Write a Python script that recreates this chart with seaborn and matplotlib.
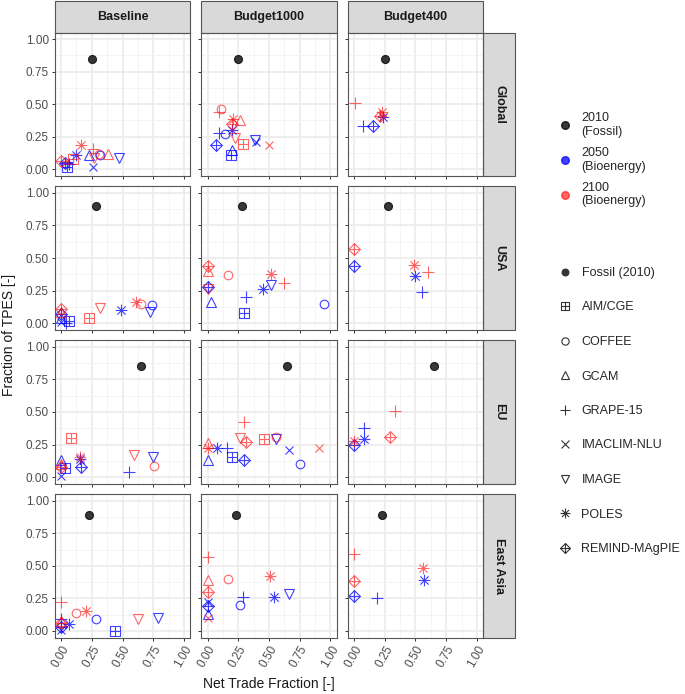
import numpy as np
import pandas as pd
import matplotlib
matplotlib.use("Agg")
import matplotlib.pyplot as plt
from matplotlib.path import Path
from matplotlib.lines import Line2D
from matplotlib.patches import Rectangle
import seaborn as sns

regions = ["Global", "USA", "EU", "East Asia"]
scenarios = ["Baseline", "Budget1000", "Budget400"]
models = ["AIM/CGE", "COFFEE", "GCAM", "GRAPE-15", "IMACLIM-NLU",
          "IMAGE", "POLES", "REMIND-MAgPIE"]

# 2010 fossil point per region (same in every scenario)
fossil_x = [0.25, 0.28, 0.65, 0.23]
fossil_y = [0.85, 0.90, 0.85, 0.89]

# (year, model, net trade fraction, fraction of TPES)
global_baseline = [
    ("2050", "AIM/CGE", 0.05, 0.02), ("2050", "GRAPE-15", 0.06, 0.04),
    ("2050", "REMIND-MAgPIE", 0.03, 0.05), ("2050", "POLES", 0.12, 0.11),
    ("2050", "GCAM", 0.23, 0.11), ("2050", "IMACLIM-NLU", 0.26, 0.015),
    ("2050", "COFFEE", 0.32, 0.11), ("2050", "IMAGE", 0.47, 0.085),
    ("2100", "REMIND-MAgPIE", 0.00, 0.065), ("2100", "AIM/CGE", 0.10, 0.08),
    ("2100", "POLES", 0.16, 0.19), ("2100", "GRAPE-15", 0.26, 0.16),
    ("2100", "IMAGE", 0.27, 0.09), ("2100", "COFFEE", 0.31, 0.12),
    ("2100", "GCAM", 0.38, 0.12),
]
global_b1000 = [
    ("2050", "GRAPE-15", 0.09, 0.28), ("2050", "COFFEE", 0.14, 0.27),
    ("2050", "POLES", 0.195, 0.30), ("2050", "REMIND-MAgPIE", 0.07, 0.19),
    ("2050", "GCAM", 0.20, 0.15), ("2050", "AIM/CGE", 0.19, 0.11),
    ("2050", "IMAGE", 0.39, 0.225), ("2050", "IMACLIM-NLU", 0.395, 0.21),
    ("2100", "GRAPE-15", 0.09, 0.44), ("2100", "COFFEE", 0.11, 0.46),
    ("2100", "POLES", 0.205, 0.385), ("2100", "REMIND-MAgPIE", 0.20, 0.35),
    ("2100", "GCAM", 0.26, 0.375), ("2100", "IMAGE", 0.22, 0.24),
    ("2100", "AIM/CGE", 0.29, 0.195), ("2100", "IMACLIM-NLU", 0.50, 0.19),
]
global_b400 = [
    ("2050", "GRAPE-15", 0.07, 0.33), ("2050", "REMIND-MAgPIE", 0.15, 0.33),
    ("2050", "POLES", 0.235, 0.40),
    ("2100", "GRAPE-15", 0.01, 0.51), ("2100", "POLES", 0.23, 0.44),
    ("2100", "REMIND-MAgPIE", 0.21, 0.41),
]
usa_baseline = [
    ("2050", "REMIND-MAgPIE", 0.00, 0.07), ("2050", "GCAM", 0.00, 0.04),
    ("2050", "IMACLIM-NLU", 0.00, 0.01), ("2050", "AIM/CGE", 0.065, 0.02),
    ("2050", "GRAPE-15", 0.04, 0.00), ("2050", "POLES", 0.49, 0.10),
    ("2050", "COFFEE", 0.74, 0.14), ("2050", "IMAGE", 0.72, 0.085),
    ("2100", "REMIND-MAgPIE", 0.00, 0.11), ("2100", "GCAM", 0.00, 0.09),
    ("2100", "AIM/CGE", 0.23, 0.04), ("2100", "IMAGE", 0.32, 0.12),
    ("2100", "POLES", 0.61, 0.16), ("2100", "COFFEE", 0.65, 0.15),
]
usa_b1000 = [
    ("2050", "REMIND-MAgPIE", 0.00, 0.28), ("2050", "GCAM", 0.03, 0.16),
    ("2050", "GRAPE-15", 0.31, 0.20), ("2050", "AIM/CGE", 0.30, 0.08),
    ("2050", "POLES", 0.45, 0.26), ("2050", "IMAGE", 0.52, 0.29),
    ("2050", "COFFEE", 0.95, 0.15),
    ("2100", "REMIND-MAgPIE", 0.00, 0.44), ("2100", "GCAM", 0.00, 0.40),
    ("2100", "IMAGE", 0.00, 0.26), ("2100", "COFFEE", 0.17, 0.37),
    ("2100", "POLES", 0.52, 0.38), ("2100", "GRAPE-15", 0.62, 0.31),
]
usa_b400 = [
    ("2050", "REMIND-MAgPIE", 0.00, 0.44), ("2050", "POLES", 0.50, 0.36),
    ("2050", "GRAPE-15", 0.55, 0.24),
    ("2100", "REMIND-MAgPIE", 0.00, 0.57), ("2100", "POLES", 0.49, 0.45),
    ("2100", "GRAPE-15", 0.60, 0.39),
]
eu_baseline = [
    ("2050", "GCAM", 0.00, 0.13), ("2050", "IMACLIM-NLU", 0.00, 0.005),
    ("2050", "AIM/CGE", 0.03, 0.07), ("2050", "REMIND-MAgPIE", 0.16, 0.08),
    ("2050", "POLES", 0.15, 0.14), ("2050", "GRAPE-15", 0.55, 0.04),
    ("2050", "IMAGE", 0.75, 0.155),
    ("2100", "AIM/CGE", 0.08, 0.30), ("2100", "REMIND-MAgPIE", 0.00, 0.08),
    ("2100", "GCAM", 0.00, 0.10), ("2100", "POLES", 0.15, 0.155),
    ("2100", "IMAGE", 0.59, 0.17), ("2100", "COFFEE", 0.76, 0.085),
]
eu_b1000 = [
    ("2050", "GCAM", 0.00, 0.135), ("2050", "POLES", 0.08, 0.22),
    ("2050", "GRAPE-15", 0.16, 0.225), ("2050", "AIM/CGE", 0.20, 0.155),
    ("2050", "REMIND-MAgPIE", 0.30, 0.135), ("2050", "IMAGE", 0.56, 0.29),
    ("2050", "IMACLIM-NLU", 0.66, 0.205), ("2050", "COFFEE", 0.75, 0.10),
    ("2100", "GCAM", 0.00, 0.26), ("2100", "POLES", 0.00, 0.225),
    ("2100", "GRAPE-15", 0.30, 0.42), ("2100", "IMAGE", 0.26, 0.30),
    ("2100", "REMIND-MAgPIE", 0.31, 0.27), ("2100", "AIM/CGE", 0.46, 0.295),
    ("2100", "COFFEE", 0.56, 0.31), ("2100", "IMACLIM-NLU", 0.91, 0.225),
]
eu_b400 = [
    ("2050", "REMIND-MAgPIE", 0.00, 0.25), ("2050", "POLES", 0.08, 0.29),
    ("2050", "GRAPE-15", 0.08, 0.38),
    ("2100", "POLES", 0.00, 0.28), ("2100", "REMIND-MAgPIE", 0.29, 0.31),
    ("2100", "GRAPE-15", 0.33, 0.505),
]
ea_baseline = [
    ("2050", "GRAPE-15", 0.00, 0.095), ("2050", "REMIND-MAgPIE", 0.00, 0.03),
    ("2050", "IMACLIM-NLU", 0.00, 0.005), ("2050", "POLES", 0.06, 0.055),
    ("2050", "COFFEE", 0.28, 0.095), ("2050", "AIM/CGE", 0.44, 0.00),
    ("2050", "IMAGE", 0.79, 0.10),
    ("2100", "GRAPE-15", 0.00, 0.22), ("2100", "GCAM", 0.00, 0.08),
    ("2100", "REMIND-MAgPIE", 0.00, 0.06), ("2100", "COFFEE", 0.12, 0.14),
    ("2100", "POLES", 0.20, 0.155), ("2100", "IMAGE", 0.63, 0.095),
]
ea_b1000 = [
    ("2050", "IMACLIM-NLU", 0.00, 0.22), ("2050", "REMIND-MAgPIE", 0.00, 0.19),
    ("2050", "GCAM", 0.00, 0.13), ("2050", "GRAPE-15", 0.29, 0.26),
    ("2050", "COFFEE", 0.26, 0.20), ("2050", "POLES", 0.54, 0.26),
    ("2050", "IMAGE", 0.66, 0.28),
    ("2100", "GRAPE-15", 0.00, 0.565), ("2100", "GCAM", 0.00, 0.39),
    ("2100", "REMIND-MAgPIE", 0.00, 0.30), ("2100", "IMACLIM-NLU", 0.00, 0.10),
    ("2100", "COFFEE", 0.17, 0.40), ("2100", "POLES", 0.51, 0.42),
]
ea_b400 = [
    ("2050", "REMIND-MAgPIE", 0.00, 0.27), ("2050", "GRAPE-15", 0.19, 0.255),
    ("2050", "POLES", 0.57, 0.39),
    ("2100", "GRAPE-15", 0.00, 0.59), ("2100", "REMIND-MAgPIE", 0.00, 0.385),
    ("2100", "POLES", 0.56, 0.48),
]

panels = {
    ("Global", "Baseline"): global_baseline, ("Global", "Budget1000"): global_b1000,
    ("Global", "Budget400"): global_b400,
    ("USA", "Baseline"): usa_baseline, ("USA", "Budget1000"): usa_b1000,
    ("USA", "Budget400"): usa_b400,
    ("EU", "Baseline"): eu_baseline, ("EU", "Budget1000"): eu_b1000,
    ("EU", "Budget400"): eu_b400,
    ("East Asia", "Baseline"): ea_baseline, ("East Asia", "Budget1000"): ea_b1000,
    ("East Asia", "Budget400"): ea_b400,
}


def createDataFrame():
    """Builds the long dataframe with one row per point."""
    rows = []
    for i, reg in enumerate(regions):
        for scen in scenarios:
            rows.append((reg, scen, "2010", "Fossil (2010)", fossil_x[i], fossil_y[i]))
            for year, model, x, y in panels[(reg, scen)]:
                rows.append((reg, scen, year, model, x, y))
    return pd.DataFrame(rows, columns=["region", "scenario", "year", "model", "x", "y"])


# marker shapes in the style of ggplot's shapes 12, 9 and 8
M, L = Path.MOVETO, Path.LINETO
square_plus = Path([(-1, -1), (1, -1), (1, 1), (-1, 1), (-1, -1), (0, -1), (0, 1), (-1, 0), (1, 0)],
                   [M, L, L, L, L, M, L, M, L])
diamond_plus = Path([(0, -1), (1, 0), (0, 1), (-1, 0), (0, -1), (0, -1), (0, 1), (-1, 0), (1, 0)],
                    [M, L, L, L, L, M, L, M, L])
d = 0.7071
asterisk = Path([(-1, 0), (1, 0), (0, -1), (0, 1), (-d, -d), (d, d), (-d, d), (d, -d)],
                [M, L, M, L, M, L, M, L])

markers = {"Fossil (2010)": "o", "AIM/CGE": square_plus, "COFFEE": "o", "GCAM": "^",
           "GRAPE-15": "+", "IMACLIM-NLU": "x", "IMAGE": "v", "POLES": asterisk,
           "REMIND-MAgPIE": diamond_plus}
msizes = {"Fossil (2010)": 5.8, "AIM/CGE": 6.6, "COFFEE": 6.2, "GCAM": 7.2,
          "GRAPE-15": 8.2, "IMACLIM-NLU": 6.0, "IMAGE": 7.2, "POLES": 8.4,
          "REMIND-MAgPIE": 8.4}
colors = {"2010": (0.0, 0.0, 0.0, 0.78), "2050": (0.0, 0.0, 1.0, 0.75),
          "2100": (1.0, 0.0, 0.0, 0.6)}


def drawPoints(data, color=None, **kws):
    ax = plt.gca()
    for (year, model), grp in data.groupby(["year", "model"]):
        col = colors[year]
        face = col if year == "2010" else "none"
        ax.plot(grp.x, grp.y, ls="none", marker=markers[model], ms=msizes[model],
                mec=col, mfc=face, mew=0.8)


df = createDataFrame()

sns.set_theme(style="white")
plt.rcParams["font.family"] = ["Liberation Sans", "DejaVu Sans"]

g = sns.FacetGrid(df, row="region", col="scenario", row_order=regions,
                  col_order=scenarios, sharex=True, sharey=True, despine=False,
                  height=1.7, aspect=1.0)
g.map_dataframe(drawPoints)
g.set_titles(template="", row_template="", col_template="")
g.set_axis_labels("", "")
fig = g.figure
fig.set_size_inches(6.85, 6.94)
W, H = 685.0, 694.0
fig.subplots_adjust(left=55 / W, right=483 / W, top=1 - 32.5 / H,
                    bottom=1 - 637.5 / H, wspace=0.085, hspace=0.073)

ticks = [0.0, 0.25, 0.5, 0.75, 1.0]
minor = [0.125, 0.375, 0.625, 0.875]
for r, reg in enumerate(regions):
    for c, scen in enumerate(scenarios):
        ax = g.axes[r, c]
        ax.set_xlim(-0.05, 1.05)
        ax.set_ylim(-0.05, 1.05)
        ax.set_xticks(ticks)
        ax.set_yticks(ticks)
        ax.set_xticks(minor, minor=True)
        ax.set_yticks(minor, minor=True)
        ax.set_axisbelow(True)
        ax.grid(which="major", color="#EBEBEB", lw=1.2)
        ax.grid(which="minor", color="#F2F2F2", lw=0.6)
        ax.tick_params(which="minor", length=0)
        ax.tick_params(which="major", length=2.5, width=0.7, color="#333333",
                       labelsize=8.5, labelcolor="#4D4D4D", pad=2,
                       bottom=True, left=True)
        for sp in ax.spines.values():
            sp.set_color("#555555")
            sp.set_linewidth(0.8)
        if r == 3:
            ax.set_xticklabels(["0.00", "0.25", "0.50", "0.75", "1.00"],
                               rotation=60, ha="right", va="top",
                               rotation_mode="anchor")
        if c == 0:
            ax.set_yticklabels(["0.00", "0.25", "0.50", "0.75", "1.00"])
        if r == 0:
            ax.add_patch(Rectangle((0, 1), 1, 31 / 143, transform=ax.transAxes,
                                   clip_on=False, fc="#D9D9D9", ec="#555555", lw=0.8))
            ax.text(0.5, 1 + 15.5 / 143, scen, transform=ax.transAxes, ha="center",
                    va="center", fontsize=9, fontweight="bold", color="#1A1A1A")
        if c == 2:
            ax.add_patch(Rectangle((1, 0), 32 / 135, 1, transform=ax.transAxes,
                                   clip_on=False, fc="#D9D9D9", ec="#555555", lw=0.8))
            ax.text(1 + 16 / 135, 0.5, reg, transform=ax.transAxes, ha="center",
                    va="center", rotation=270, fontsize=9, fontweight="bold",
                    color="#1A1A1A")

fig.text(9 / W, 1 - 335 / H, "Fraction of TPES [-]", rotation=90, ha="center",
         va="center", fontsize=10, color="#1A1A1A")
fig.text(269 / W, 1 - 684 / H, "Net Trade Fraction [-]", ha="center",
         va="center", fontsize=10, color="#1A1A1A")

# colour legend
col_handles = [Line2D([], [], ls="none", marker="o", ms=5.5, mfc=colors[k], mec=colors[k])
               for k in ["2010", "2050", "2100"]]
leg1 = fig.legend(col_handles, ["2010\n(Fossil)", "2050\n(Bioenergy)", "2100\n(Bioenergy)"],
                  loc="upper left", bbox_to_anchor=(559 / W, 1 - 112 / H),
                  frameon=False, fontsize=9, borderpad=0, borderaxespad=0,
                  handlelength=1.0, handletextpad=0.8, labelspacing=0.72)

# shape legend
shape_names = ["Fossil (2010)"] + models
shape_handles = []
for m in shape_names:
    filled = "#333333" if m == "Fossil (2010)" else "none"
    shape_handles.append(Line2D([], [], ls="none", marker=markers[m], ms=msizes[m] * 0.85,
                                mec="#333333", mfc=filled, mew=0.8))
leg2 = fig.legend(shape_handles, shape_names, loc="upper left",
                  bbox_to_anchor=(559 / W, 1 - 267 / H), frameon=False,
                  fontsize=9, borderpad=0, borderaxespad=0, handlelength=1.0,
                  handletextpad=0.8, labelspacing=1.8)

fig.savefig("out.png", dpi=100)
